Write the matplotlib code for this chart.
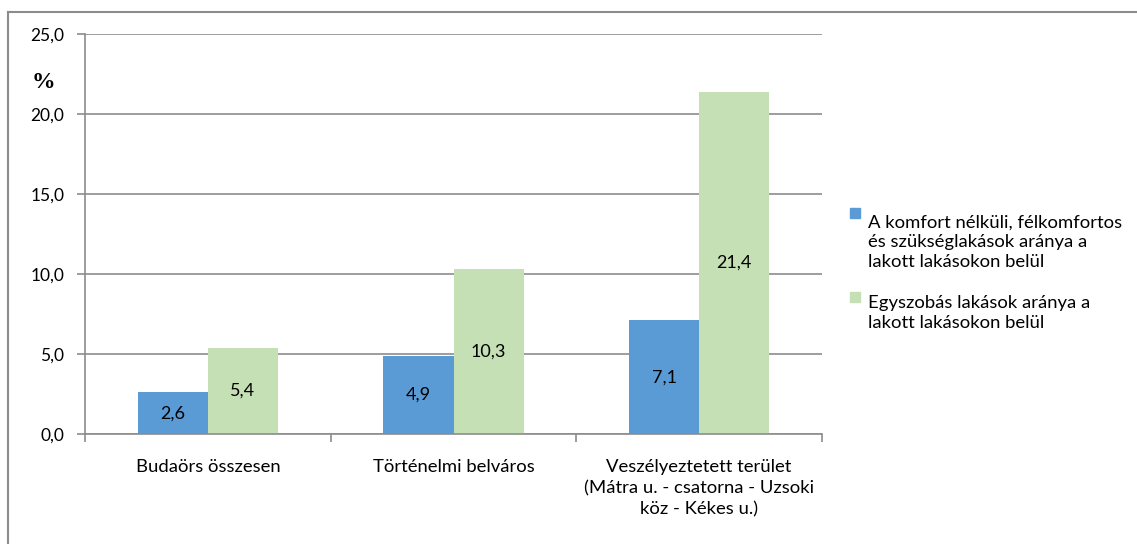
"""Budaörs housing shares: grouped bar chart with wrapped legend."""

import matplotlib
matplotlib.use("Agg")
import matplotlib.pyplot as plt
from matplotlib.lines import Line2D
from matplotlib.patches import Rectangle
from matplotlib.ticker import FixedLocator
import numpy as np

CATEGORIES = [
    "Budaörs összesen",
    "Történelmi belváros",
    "Veszélyeztetett terület\n(Mátra u. - csatorna - Uzsoki\nköz - Kékes u.)",
]
NO_COMFORT = [2.6, 4.9, 7.1]
ONE_ROOM = [5.4, 10.3, 21.4]
SERIES_LABELS = [
    "A komfort nélküli, félkomfortos\nés szükséglakások aránya a\nlakott lakásokon belül",
    "Egyszobás lakások aránya a\nlakott lakásokon belül",
]
Y_TICKS = [0, 5, 10, 15, 20, 25]

BLUE = "#5B9BD5"
GREEN = "#C5E0B4"
GRID = "#8C8C8C"
FONT = "Lato"
W, H = 1137, 544
LEGEND_LINE = 23  # px between legend text lines

plt.rcParams["font.family"] = [FONT, "DejaVu Sans"]

fig = plt.figure(figsize=(W / 100, H / 100), dpi=100)
ax = fig.add_axes([85 / W, 1 - 434 / H, (822 - 85) / W, 400 / H])

x = np.arange(len(CATEGORIES))
width = 0.285
bars_a = ax.bar(x - width / 2, NO_COMFORT, width, color=BLUE, zorder=2)
bars_b = ax.bar(x + width / 2, ONE_ROOM, width, color=GREEN, zorder=2)

for bars, values in ((bars_a, NO_COMFORT), (bars_b, ONE_ROOM)):
    for rect, v in zip(bars, values):
        ax.text(rect.get_x() + rect.get_width() / 2, v / 2, f"{v:.1f}".replace(".", ","),
                ha="center", va="center", fontsize=13, color="black", zorder=3)

ax.set_xlim(-0.5, len(CATEGORIES) - 0.5)
ax.set_ylim(0, 25)
ax.set_yticks(Y_TICKS)
ax.set_yticklabels([f"{t:.1f}".replace(".", ",") for t in Y_TICKS], fontsize=12.5)
ax.yaxis.grid(True, color=GRID, linewidth=1.2, zorder=0)
ax.set_axisbelow(True)

ax.set_xticks(x)
ax.set_xticklabels(CATEGORIES, fontsize=13.3, linespacing=1.4, va="top")
ax.tick_params(axis="x", which="major", length=0, pad=18)
ax.xaxis.set_minor_locator(FixedLocator(np.arange(-0.5, len(CATEGORIES), 1.0)))
ax.tick_params(axis="x", which="minor", length=6, color=GRID, width=1.2, direction="out")
ax.tick_params(axis="y", length=6, color=GRID, width=1.2, pad=9)

for side in ("top", "right"):
    ax.spines[side].set_visible(False)
for side in ("left", "bottom"):
    ax.spines[side].set_color(GRID)
    ax.spines[side].set_linewidth(1.2)

ax.text(-0.057, 0.8775, "%", transform=ax.transAxes, fontsize=17, fontweight="bold",
        family=["Liberation Serif", "DejaVu Serif"], ha="center", va="center")

# legend drawn by hand so each square sits on the first line of its entry
legend_items = [(BLUE, SERIES_LABELS[0], 221), (GREEN, SERIES_LABELS[1], 305)]
for color, label, baseline in legend_items:
    fig.add_artist(Rectangle((850 / W, 1 - (baseline - 3) / H), 10 / W, 10 / H,
                             transform=fig.transFigure, color=color))
    last_baseline = baseline + LEGEND_LINE * label.count("\n")
    fig.text(868 / W, 1 - last_baseline / H, label, fontsize=13.3, va="baseline", ha="left",
             linespacing=1.3)

# outer chart frame (top and left edges only are visible)
fig.add_artist(Line2D([8 / W, 1.0], [1 - 12 / H, 1 - 12 / H], color=GRID, linewidth=1.5,
                      transform=fig.transFigure))
fig.add_artist(Line2D([8 / W, 8 / W], [0.0, 1 - 12 / H], color=GRID, linewidth=1.5,
                      transform=fig.transFigure))

fig.savefig("out.png", dpi=100)
